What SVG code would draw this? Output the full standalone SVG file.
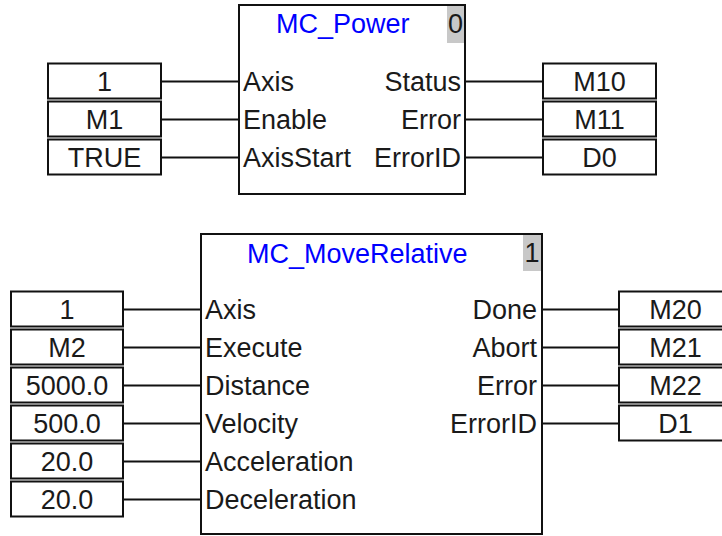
<svg xmlns="http://www.w3.org/2000/svg" width="722" height="536" viewBox="0 0 722 536">
<style>
text{font-family:"Liberation Sans",Arial,sans-serif;font-size:27px;fill:#1a1a1a}
.blk{fill:#fff;stroke:#111;stroke-width:2}
.box{fill:#fff;stroke:#111;stroke-width:2}
.num{fill:#c8c8c8}
.title{fill:#0000ff}
.c{text-anchor:middle}
.r{text-anchor:end}
.w{stroke:#111;stroke-width:2;fill:none}
</style>
<rect width="722" height="536" fill="#fff"/>
<g id="connectors">
<path class="w" d="M161 81.5H239M161 119.5H239M161 157.5H239M465 81.5H543M465 119.5H543M465 157.5H543"/>
<path class="w" d="M123 309.5H201M123 347.5H201M123 385.5H201M123 423.5H201M123 461.5H201M123 499.5H201M542 309.5H619M542 347.5H619M542 385.5H619M542 423.5H619"/>
</g>
<g id="mc_power">
<rect class="blk" x="239" y="5" width="226" height="189"/>
<rect class="num" x="447" y="6" width="17" height="37"/>
<text class="c" x="455.5" y="33">0</text>
<text class="title" x="276" y="33">MC_Power</text>
<text x="243" y="91">Axis</text>
<text x="243" y="129">Enable</text>
<text x="243" y="167">AxisStart</text>
<text class="r" x="461" y="91">Status</text>
<text class="r" x="461" y="129">Error</text>
<text class="r" x="461" y="167">ErrorID</text>
</g>
<g id="in_p_axis"><rect class="box" x="48" y="63.5" width="113" height="35"/><text class="c" x="104.5" y="91">1</text></g>
<g id="in_p_enable"><rect class="box" x="48" y="101.5" width="113" height="35"/><text class="c" x="104.5" y="129">M1</text></g>
<g id="in_p_axisstart"><rect class="box" x="48" y="139.5" width="113" height="35"/><text class="c" x="104.5" y="167">TRUE</text></g>
<g id="out_p_status"><rect class="box" x="543" y="63.5" width="113" height="35"/><text class="c" x="599.5" y="91">M10</text></g>
<g id="out_p_error"><rect class="box" x="543" y="101.5" width="113" height="35"/><text class="c" x="599.5" y="129">M11</text></g>
<g id="out_p_errorid"><rect class="box" x="543" y="139.5" width="113" height="35"/><text class="c" x="599.5" y="167">D0</text></g>
<g id="mc_moverelative">
<rect class="blk" x="201" y="234" width="341" height="300"/>
<rect class="num" x="523" y="235" width="18" height="36"/>
<text class="c" x="532" y="262">1</text>
<text class="title" x="247" y="263">MC_MoveRelative</text>
<text x="205" y="319">Axis</text>
<text x="205" y="357">Execute</text>
<text x="205" y="395">Distance</text>
<text x="205" y="433">Velocity</text>
<text x="205" y="471">Acceleration</text>
<text x="205" y="509">Deceleration</text>
<text class="r" x="537" y="319">Done</text>
<text class="r" x="537" y="357">Abort</text>
<text class="r" x="537" y="395">Error</text>
<text class="r" x="537" y="433">ErrorID</text>
</g>
<g id="in_m_axis"><rect class="box" x="11" y="291.5" width="112" height="35"/><text class="c" x="67" y="319">1</text></g>
<g id="in_m_execute"><rect class="box" x="11" y="329.5" width="112" height="35"/><text class="c" x="67" y="357">M2</text></g>
<g id="in_m_distance"><rect class="box" x="11" y="367.5" width="112" height="35"/><text class="c" x="67" y="395">5000.0</text></g>
<g id="in_m_velocity"><rect class="box" x="11" y="405.5" width="112" height="35"/><text class="c" x="67" y="433">500.0</text></g>
<g id="in_m_accel"><rect class="box" x="11" y="443.5" width="112" height="35"/><text class="c" x="67" y="471">20.0</text></g>
<g id="in_m_decel"><rect class="box" x="11" y="481.5" width="112" height="35"/><text class="c" x="67" y="509">20.0</text></g>
<g id="out_m_done"><rect class="box" x="619" y="291.5" width="113" height="35"/><text class="c" x="675.5" y="319">M20</text></g>
<g id="out_m_abort"><rect class="box" x="619" y="329.5" width="113" height="35"/><text class="c" x="675.5" y="357">M21</text></g>
<g id="out_m_error"><rect class="box" x="619" y="367.5" width="113" height="35"/><text class="c" x="675.5" y="395">M22</text></g>
<g id="out_m_errorid"><rect class="box" x="619" y="405.5" width="113" height="35"/><text class="c" x="675.5" y="433">D1</text></g>
</svg>
